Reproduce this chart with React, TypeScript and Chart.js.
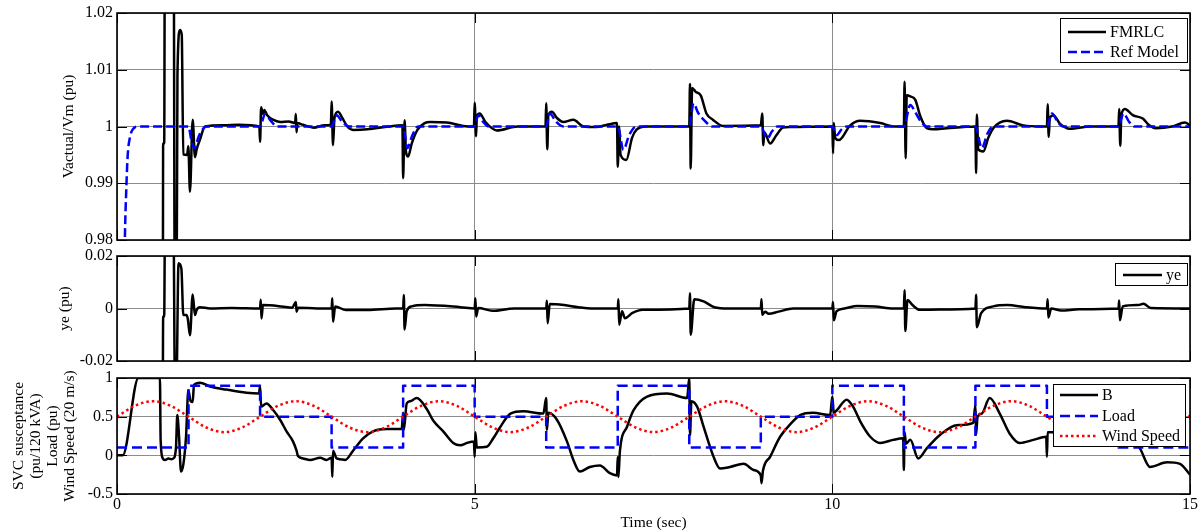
import React, { useEffect, useRef } from "react";
import { Chart, registerables } from "chart.js";

Chart.register(...registerables);

const FONT = '"Liberation Serif", "Times New Roman", serif';
const GRID = "#8c8c8c";

// ---------- shared x axis ----------
const xTicks = [0, 5, 10, 15];
const xTickLabels = ["0", "5", "10", "15"];
const xTitle = "Time (sec)";

// ---------- panel 1: Vactual / Vm ----------
const vTicks = [0.98, 0.99, 1, 1.01, 1.02];
const vTickLabels = ["0.98", "0.99", "1", "1.01", "1.02"];
const vTitle = ["Vactual/Vm (pu)"];

const fmrlc: [number, number][] = [
  [0, 0.96], [0.64, 0.96], [0.645, 0.997], [0.66, 0.997], [0.67, 1.04], [0.79, 1.04], [0.81, 0.96], [0.83, 0.96],
  [0.845, 1.009], [0.88, 1.017], [0.905, 1.0162], [0.927, 0.9951], [0.98, 0.995], [0.997, 0.9965], [1.02, 0.9885],
  [1.058, 1.0012], [1.09, 0.9946], [1.114, 0.996], [1.16, 0.9977], [1.23, 1.0], [1.5, 1.0002], [1.7, 1.0003],
  [1.99, 1.0], [2.0, 0.9973], [2.015, 1.0034], [2.04, 1.0022], [2.06, 1.0029], [2.1, 1.002], [2.18, 1.0012],
  [2.28, 1.0008], [2.4, 1.0009], [2.49, 1.0006], [2.5, 1.0022], [2.51, 0.999], [2.52, 1.0006], [2.6, 1.0003],
  [2.75, 0.9998], [2.9, 1.0002], [2.99, 1.0003], [3.0, 1.0044], [3.02, 0.9967], [3.04, 1.0015], [3.09, 1.0026],
  [3.15, 1.0015], [3.22, 1.0], [3.3, 0.9994], [3.5, 0.9995], [3.8, 1.0], [3.99, 1.0002], [4.0, 0.9909],
  [4.02, 1.0011], [4.04, 0.9955], [4.07, 0.9947], [4.12, 0.997], [4.2, 0.9994], [4.3, 1.0006], [4.38, 1.0008],
  [4.61, 1.0007], [4.84, 1.0001], [4.99, 1.0], [5.0, 1.0042], [5.02, 0.9983], [5.03, 1.0018], [5.07, 1.0023],
  [5.15, 1.0008], [5.31, 0.9993], [5.6, 1.0], [5.99, 1.0], [6.0, 1.0041], [6.015, 0.996], [6.03, 1.002],
  [6.08, 1.0026], [6.15, 1.0015], [6.24, 1.0008], [6.38, 1.0012], [6.52, 1.0], [6.7, 0.9999], [6.85, 1.0003],
  [6.99, 1.0006], [7.0, 0.9929], [7.02, 1.0], [7.04, 0.995], [7.12, 0.9941], [7.2, 0.998], [7.26, 0.9994],
  [7.4, 1.0], [8.0, 1.0], [8.01, 1.0075], [8.02, 0.9926], [8.04, 1.0068], [8.09, 1.0061], [8.16, 1.0055],
  [8.24, 1.0023], [8.33, 1.0012], [8.47, 1.0001], [9.0, 1.0002], [9.02, 1.0023], [9.035, 0.9967], [9.05, 0.999],
  [9.13, 0.997], [9.22, 0.9985], [9.31, 0.9998], [9.41, 0.9999], [10.0, 1.0], [10.01, 0.9953], [10.02, 1.0006],
  [10.04, 0.998], [10.09, 0.9976], [10.25, 1.0002], [10.39, 1.001], [10.67, 1.0006], [10.86, 1.0], [11.0, 1.0],
  [11.01, 1.0079], [11.025, 0.9944], [11.04, 1.0055], [11.09, 1.0053], [11.16, 1.0047], [11.23, 1.0018],
  [11.32, 0.9997], [11.41, 0.9995], [11.6, 0.9997], [12.0, 1.0], [12.01, 0.9918], [12.02, 1.0021], [12.04, 0.996],
  [12.11, 0.9956], [12.18, 0.998], [12.25, 0.9997], [12.44, 1.001], [12.67, 1.0002], [12.9, 1.0], [13.0, 1.0],
  [13.01, 1.0039], [13.025, 0.9982], [13.04, 1.0015], [13.09, 1.002], [13.18, 1.0005], [13.28, 0.9997],
  [13.35, 0.9996], [13.6, 1.0], [14.0, 1.0], [14.01, 1.0031], [14.025, 0.9966], [14.04, 1.002], [14.09, 1.0031],
  [14.2, 1.002], [14.34, 1.0014], [14.43, 1.0002], [14.52, 0.9997], [14.75, 1.0], [14.93, 1.0007], [15, 1.0002],
];

const refModel: [number, number][] = [
  [0, 0.96], [0.1, 0.97], [0.11, 0.98], [0.13, 0.989], [0.15, 0.995], [0.18, 0.998], [0.22, 0.9995], [0.3, 1.0],
  [1.0, 1.0], [1.04, 0.9975], [1.08, 0.9962], [1.15, 0.9985], [1.25, 1.0], [2.0, 1.0], [2.07, 1.0022],
  [2.15, 1.001], [2.24, 1.0], [3.0, 1.0], [3.07, 1.002], [3.15, 1.0008], [3.25, 1.0], [4.0, 1.0], [4.06, 0.9962],
  [4.13, 0.9985], [4.21, 1.0], [5.0, 1.0], [5.05, 1.002], [5.12, 1.0008], [5.2, 1.0], [6.0, 1.0], [6.05, 1.0023],
  [6.14, 1.0008], [6.24, 1.0], [7.0, 1.0], [7.08, 0.9959], [7.16, 0.9985], [7.26, 1.0], [8.0, 1.0], [8.06, 1.0041],
  [8.12, 1.0025], [8.2, 1.0012], [8.33, 1.0], [9.0, 1.0], [9.09, 0.9979], [9.16, 0.9992], [9.23, 1.0], [10.0, 1.0],
  [10.06, 0.9985], [10.13, 0.9995], [10.2, 1.0], [11.0, 1.0], [11.09, 1.0038], [11.16, 1.0025], [11.23, 1.001],
  [11.32, 1.0], [12.0, 1.0], [12.09, 0.9962], [12.17, 0.9988], [12.25, 1.0], [13.0, 1.0], [13.07, 1.0023],
  [13.15, 1.0008], [13.23, 1.0], [14.0, 1.0], [14.07, 1.0023], [14.15, 1.0008], [14.23, 1.0], [15, 1.0],
];

// ---------- panel 2: ye ----------
const yeTicks = [-0.02, 0, 0.02];
const yeTickLabels = ["-0.02", "0", "0.02"];
const yeTitle = ["ye (pu)"];

const ye: [number, number][] = [
  [0, -0.03], [0.64, -0.03], [0.645, -0.003], [0.66, -0.003], [0.67, 0.03], [0.79, 0.03], [0.81, -0.03],
  [0.83, -0.03], [0.86, 0.0172], [0.9, 0.0152], [0.927, -0.0025], [0.97, -0.0025], [0.99, -0.004], [1.02, -0.0102],
  [1.058, 0.0053], [1.09, -0.0025], [1.114, -0.0005], [1.16, 0.0005], [1.3, 0.0], [1.6, 0.0002], [2.0, 0.0],
  [2.01, 0.0033], [2.02, -0.0038], [2.04, 0.0013], [2.3, 0.0008], [2.45, 0.0003], [2.5, 0.0025], [2.51, -0.0012],
  [2.53, 0.0003], [2.8, 0.0], [3.0, 0.0], [3.01, 0.0039], [3.02, -0.005], [3.05, 0.0008], [3.2, -0.0006],
  [3.5, -0.0006], [3.9, 0.0], [4.0, 0.0], [4.01, 0.0051], [4.02, -0.008], [4.05, -0.001], [4.12, 0.0008],
  [4.3, 0.0013], [4.8, 0.0005], [5.0, 0.0], [5.01, 0.0039], [5.02, -0.003], [5.05, 0.0002], [5.25, -0.0009],
  [5.55, 0.0], [6.0, 0.0], [6.01, 0.003], [6.02, -0.0056], [6.05, 0.0017], [6.25, 0.0013], [6.45, 0.0005],
  [6.65, 0.0], [7.0, 0.0], [7.01, 0.0035], [7.02, -0.0062], [7.06, -0.001], [7.1, -0.0037], [7.2, -0.0018],
  [7.35, -0.0005], [8.0, 0.0], [8.01, 0.0058], [8.02, -0.01], [8.07, 0.0035], [8.2, 0.0027], [8.35, 0.0005],
  [8.55, 0.0], [9.0, 0.0], [9.01, 0.0035], [9.02, -0.0024], [9.06, -0.0012], [9.11, -0.002], [9.25, -0.0012],
  [9.45, 0.0], [10.0, 0.0], [10.01, 0.0025], [10.02, -0.0045], [10.06, -0.001], [10.17, 0.0], [10.35, 0.001],
  [10.6, 0.0008], [10.85, 0.0], [11.0, 0.0], [11.01, 0.007], [11.02, -0.0086], [11.05, 0.0032], [11.12, 0.0013],
  [11.22, -0.0005], [11.5, -0.0004], [12.0, 0.0], [12.01, 0.0052], [12.02, -0.0071], [12.08, -0.0018],
  [12.25, 0.0008], [12.45, 0.0013], [12.7, 0.0005], [13.0, 0.0], [13.01, 0.0035], [13.02, -0.0034], [13.06, 0.0],
  [13.2, -0.0008], [13.45, -0.0003], [14.0, 0.0], [14.01, 0.003], [14.02, -0.0045], [14.06, 0.0008],
  [14.28, 0.0013], [14.35, 0.0018], [14.45, 0.0002], [15, 0.0],
];

// ---------- panel 3: B / Load / Wind ----------
const bTicks = [-0.5, 0, 0.5, 1];
const bTickLabels = ["-0.5", "0", "0.5", "1"];
const bTitle = ["SVC susceptance", "(pu/120 kVA)", "Load (pu)", "Wind Speed (20 m/s)"];

const susceptance: [number, number][] = [
  [0, 0], [0.08, 0], [0.3, 1.0], [0.6, 1.0], [0.61, 0.2], [0.64, -0.04], [0.67, -0.06], [0.72, -0.04],
  [0.76, -0.05], [0.8, -0.03], [0.825, 0.11], [0.843, 0.52], [0.867, 0.25], [0.895, -0.21], [0.927, -0.12],
  [0.965, 0.24], [0.997, 0.84], [1.03, 0.7], [1.058, 0.69], [1.076, 0.91], [1.16, 0.94], [1.3, 0.89],
  [1.53, 0.85], [1.81, 0.81], [1.985, 0.8], [2.0, 0.9], [2.015, 0.63], [2.09, 0.67], [2.18, 0.59], [2.28, 0.46],
  [2.37, 0.31], [2.46, 0.18], [2.51, 0.06], [2.53, -0.01], [2.6, -0.04], [2.7, -0.06], [2.84, -0.03],
  [2.93, -0.06], [3.0, -0.03], [3.01, -0.28], [3.02, 0.06], [3.07, -0.04], [3.12, -0.05], [3.19, -0.06],
  [3.3, 0.06], [3.44, 0.22], [3.58, 0.31], [3.77, 0.34], [3.98, 0.34], [4.0, 0.55], [4.01, 0.33], [4.05, 0.67],
  [4.1, 0.7], [4.19, 0.74], [4.33, 0.6], [4.42, 0.45], [4.56, 0.31], [4.7, 0.16], [4.8, 0.13], [4.89, 0.16],
  [4.99, 0.18], [5.0, -0.02], [5.01, 0.3], [5.03, 0.1], [5.17, 0.11], [5.26, 0.22], [5.36, 0.37], [5.5, 0.54],
  [5.68, 0.57], [5.96, 0.54], [6.0, 0.74], [6.01, 0.33], [6.03, 0.55], [6.15, 0.46], [6.29, 0.18], [6.38, -0.06],
  [6.47, -0.21], [6.61, -0.15], [6.75, -0.13], [6.89, -0.23], [6.99, -0.26], [7.0, -0.02], [7.01, -0.28],
  [7.03, 0.05], [7.13, 0.37], [7.22, 0.58], [7.41, 0.76], [7.69, 0.8], [7.97, 0.74], [8.0, 1.0], [8.01, 0.26],
  [8.03, 0.7], [8.11, 0.63], [8.2, 0.37], [8.34, -0.02], [8.43, -0.17], [8.57, -0.15], [8.76, -0.11],
  [8.9, -0.19], [9.0, -0.26], [9.01, -0.36], [9.03, -0.2], [9.13, -0.02], [9.27, 0.24], [9.41, 0.4],
  [9.55, 0.52], [9.73, 0.55], [9.97, 0.52], [10.0, 0.76], [10.02, 0.55], [10.06, 0.58], [10.2, 0.72],
  [10.29, 0.63], [10.39, 0.44], [10.53, 0.24], [10.67, 0.16], [10.85, 0.2], [10.99, 0.22], [11.0, -0.19],
  [11.01, 0.3], [11.03, 0.15], [11.09, 0.2], [11.2, -0.04], [11.32, 0.09], [11.5, 0.26], [11.74, 0.39],
  [11.97, 0.42], [12.0, 0.65], [12.01, 0.27], [12.03, 0.5], [12.09, 0.54], [12.2, 0.74], [12.34, 0.54],
  [12.48, 0.28], [12.62, 0.16], [12.81, 0.2], [12.99, 0.24], [13.0, -0.02], [13.01, 0.3], [13.1, 0.3],
  [13.3, 0.35], [13.6, 0.4], [13.95, 0.42], [14.0, 0.5], [14.01, 0.3], [14.15, 0.25], [14.3, 0.09],
  [14.44, -0.15], [14.68, -0.09], [14.86, -0.11], [15.0, -0.25],
];

const loadTimes = [0, 1, 2, 3, 4, 5, 6, 7, 8, 9, 10, 11, 12, 13, 14, 15];
const loadValues = [0.1, 0.9, 0.5, 0.1, 0.9, 0.5, 0.1, 0.9, 0.1, 0.5, 0.9, 0.1, 0.9, 0.5, 0.1, 0.1];

const windTimes = [
  0, 0.25, 0.5, 0.75, 1, 1.25, 1.5, 1.75, 2, 2.25, 2.5, 2.75, 3, 3.25, 3.5, 3.75, 4, 4.25, 4.5, 4.75,
  5, 5.25, 5.5, 5.75, 6, 6.25, 6.5, 6.75, 7, 7.25, 7.5, 7.75, 8, 8.25, 8.5, 8.75, 9, 9.25, 9.5, 9.75,
  10, 10.25, 10.5, 10.75, 11, 11.25, 11.5, 11.75, 12, 12.25, 12.5, 12.75, 13, 13.25, 13.5, 13.75, 14, 14.25,
  14.5, 14.75, 15,
];
const windValues = [
  0.5, 0.64, 0.7, 0.64, 0.5, 0.36, 0.3, 0.36, 0.5, 0.64, 0.7, 0.64, 0.5, 0.36, 0.3, 0.36, 0.5, 0.64, 0.7, 0.64,
  0.5, 0.36, 0.3, 0.36, 0.5, 0.64, 0.7, 0.64, 0.5, 0.36, 0.3, 0.36, 0.5, 0.64, 0.7, 0.64, 0.5, 0.36, 0.3, 0.36,
  0.5, 0.64, 0.7, 0.64, 0.5, 0.36, 0.3, 0.36, 0.5, 0.64, 0.7, 0.64, 0.5, 0.36, 0.3, 0.36, 0.5, 0.64, 0.7, 0.64,
  0.5,
];

type Series = {
  label: string;
  pts: [number, number][];
  color: string;
  width: number;
  dash: number[];
  stepped?: boolean;
  order: number;
};

type PanelSpec = {
  canvasTop: number;
  canvasHeight: number;
  padTop: number;
  padBottom: number;
  yMin: number;
  yMax: number;
  yTicks: number[];
  yTickLabels: string[];
  yTitle: string[];
  titleX: number[];
  series: Series[];
  legend: { x0: number; y0: number; x1: number; y1: number; rows: number[]; s0: number; s1: number; tx: number };
  showX: boolean;
};

const zip = (a: number[], b: number[]): [number, number][] => a.map((t, i) => [t, b[i]]);

const panels: PanelSpec[] = [
  {
    canvasTop: 0, canvasHeight: 248, padTop: 13, padBottom: 8,
    yMin: 0.98, yMax: 1.02, yTicks: vTicks, yTickLabels: vTickLabels, yTitle: vTitle, titleX: [69],
    series: [
      { label: "FMRLC", pts: fmrlc, color: "#000000", width: 2.5, dash: [], order: 2 },
      { label: "Ref Model", pts: refModel, color: "#0000ff", width: 2.5, dash: [9, 4], order: 1 },
    ],
    legend: { x0: 1060, y0: 18, x1: 1187, y1: 62, rows: [32, 52], s0: 1068, s1: 1106, tx: 1110 },
    showX: false,
  },
  {
    canvasTop: 248, canvasHeight: 122, padTop: 8, padBottom: 9,
    yMin: -0.02, yMax: 0.02, yTicks: yeTicks, yTickLabels: yeTickLabels, yTitle: yeTitle, titleX: [65],
    series: [{ label: "ye", pts: ye, color: "#000000", width: 2.5, dash: [], order: 1 }],
    legend: { x0: 1115, y0: 263, x1: 1187, y1: 285, rows: [275], s0: 1123, s1: 1162, tx: 1166 },
    showX: false,
  },
  {
    canvasTop: 370, canvasHeight: 162, padTop: 8, padBottom: 38,
    yMin: -0.5, yMax: 1, yTicks: bTicks, yTickLabels: bTickLabels, yTitle: bTitle, titleX: [19, 36, 53, 70],
    series: [
      { label: "B", pts: susceptance, color: "#000000", width: 2.5, dash: [], order: 3 },
      { label: "Load", pts: zip(loadTimes, loadValues), color: "#0000ff", width: 2.5, dash: [10, 5], stepped: true, order: 2 },
      { label: "Wind Speed", pts: zip(windTimes, windValues), color: "#ff0000", width: 2.5, dash: [2.5, 3], order: 1 },
    ],
    legend: { x0: 1053, y0: 384, x1: 1185, y1: 446, rows: [395, 416, 436], s0: 1060, s1: 1098, tx: 1102 },
    showX: true,
  },
];

function makeFramePlugin(spec: PanelSpec) {
  return {
    id: "frame",
    afterDraw(chart: any) {
      const { ctx, chartArea: a, scales } = chart;
      const off = spec.canvasTop;
      ctx.save();
      // inward tick marks
      ctx.strokeStyle = "#000";
      ctx.lineWidth = 1;
      ctx.beginPath();
      for (const v of xTicks) {
        const px = Math.round(scales.x.getPixelForValue(v)) + 0.5;
        ctx.moveTo(px, a.bottom); ctx.lineTo(px, a.bottom - 10);
        ctx.moveTo(px, a.top); ctx.lineTo(px, a.top + 10);
      }
      for (const v of spec.yTicks) {
        const py = Math.round(scales.y.getPixelForValue(v)) + 0.5;
        ctx.moveTo(a.left, py); ctx.lineTo(a.left + 10, py);
        ctx.moveTo(a.right, py); ctx.lineTo(a.right - 10, py);
      }
      ctx.stroke();
      // axes box
      ctx.lineWidth = 1.6;
      ctx.strokeRect(a.left, a.top, a.right - a.left, a.bottom - a.top);

      // y tick labels
      ctx.fillStyle = "#000";
      ctx.font = `16px ${FONT}`;
      ctx.textAlign = "right";
      ctx.textBaseline = "middle";
      spec.yTicks.forEach((v, i) => {
        ctx.fillText(spec.yTickLabels[i], a.left - 4, scales.y.getPixelForValue(v));
      });

      // x tick labels + title
      if (spec.showX) {
        ctx.textAlign = "center";
        xTicks.forEach((v, i) => {
          ctx.fillText(xTickLabels[i], scales.x.getPixelForValue(v), a.bottom + 11);
        });
        ctx.font = `15.5px ${FONT}`;
        ctx.fillText(xTitle, (a.left + a.right) / 2, a.bottom + 29);
      }

      // y title (rotated)
      ctx.font = `15.5px ${FONT}`;
      const cy = (a.top + a.bottom) / 2;
      spec.yTitle.forEach((line, i) => {
        ctx.save();
        ctx.translate(spec.titleX[i], cy);
        ctx.rotate(-Math.PI / 2);
        ctx.textAlign = "center";
        ctx.textBaseline = "middle";
        ctx.fillText(line, 0, 0);
        ctx.restore();
      });

      // legend
      const L = spec.legend;
      ctx.fillStyle = "#fff";
      ctx.fillRect(L.x0, L.y0 - off, L.x1 - L.x0, L.y1 - L.y0);
      ctx.strokeStyle = "#000";
      ctx.lineWidth = 1;
      ctx.strokeRect(Math.round(L.x0) + 0.5, Math.round(L.y0 - off) + 0.5, L.x1 - L.x0, L.y1 - L.y0);
      ctx.font = `16px ${FONT}`;
      ctx.textAlign = "left";
      ctx.textBaseline = "middle";
      spec.series.forEach((s, i) => {
        const y = L.rows[i] - off;
        ctx.beginPath();
        ctx.strokeStyle = s.color;
        ctx.lineWidth = s.width;
        ctx.setLineDash(s.dash);
        ctx.moveTo(L.s0, y);
        ctx.lineTo(L.s1, y);
        ctx.stroke();
        ctx.setLineDash([]);
        ctx.fillStyle = "#000";
        ctx.fillText(s.label, L.tx, y + 1);
      });
      ctx.restore();
    },
  };
}

function buildConfig(spec: PanelSpec): any {
  return {
    type: "line",
    data: {
      datasets: spec.series.map((s) => ({
        label: s.label,
        data: s.pts.map(([x, y]) => ({ x, y })),
        borderColor: s.color,
        backgroundColor: s.color,
        borderWidth: s.width,
        borderDash: s.dash,
        borderCapStyle: "butt",
        borderJoinStyle: "round",
        pointRadius: 0,
        pointHoverRadius: 0,
        fill: false,
        stepped: s.stepped ? "before" : false,
        cubicInterpolationMode: s.stepped ? "default" : "monotone",
        tension: 0,
        order: s.order,
        clip: 0,
      })),
    },
    options: {
      animation: false,
      responsive: false,
      maintainAspectRatio: false,
      events: [],
      layout: { padding: { top: spec.padTop, bottom: spec.padBottom, left: 0, right: 13 } },
      plugins: { legend: { display: false }, tooltip: { enabled: false }, title: { display: false } },
      scales: {
        x: {
          type: "linear",
          min: 0,
          max: 15,
          afterBuildTicks: (s: any) => {
            s.ticks = xTicks.map((v) => ({ value: v }));
          },
          afterFit: (s: any) => {
            s.height = 0;
          },
          ticks: { display: false },
          grid: { color: GRID, lineWidth: 1, drawTicks: false },
          border: { display: false },
        },
        y: {
          type: "linear",
          min: spec.yMin,
          max: spec.yMax,
          afterBuildTicks: (s: any) => {
            s.ticks = spec.yTicks.map((v) => ({ value: v }));
          },
          afterFit: (s: any) => {
            s.width = 117;
          },
          ticks: { display: false },
          grid: { color: GRID, lineWidth: 1, drawTicks: false },
          border: { display: false },
        },
      },
    },
    plugins: [makeFramePlugin(spec)],
  };
}

function Panel({ spec }: { spec: PanelSpec }) {
  const ref = useRef<HTMLCanvasElement>(null);
  useEffect(() => {
    if (!ref.current) return;
    const chart = new Chart(ref.current, buildConfig(spec));
    return () => chart.destroy();
  }, [spec]);
  return (
    <canvas
      ref={ref}
      width={1203}
      height={spec.canvasHeight}
      style={{ position: "absolute", left: 0, top: spec.canvasTop, width: 1203, height: spec.canvasHeight, display: "block" }}
    />
  );
}

export default function App() {
  return (
    <div style={{ position: "fixed", left: 0, top: 0, width: 1203, height: 532, background: "#fff", overflow: "hidden" }}>
      {panels.map((p, i) => (
        <Panel key={i} spec={p} />
      ))}
    </div>
  );
}
